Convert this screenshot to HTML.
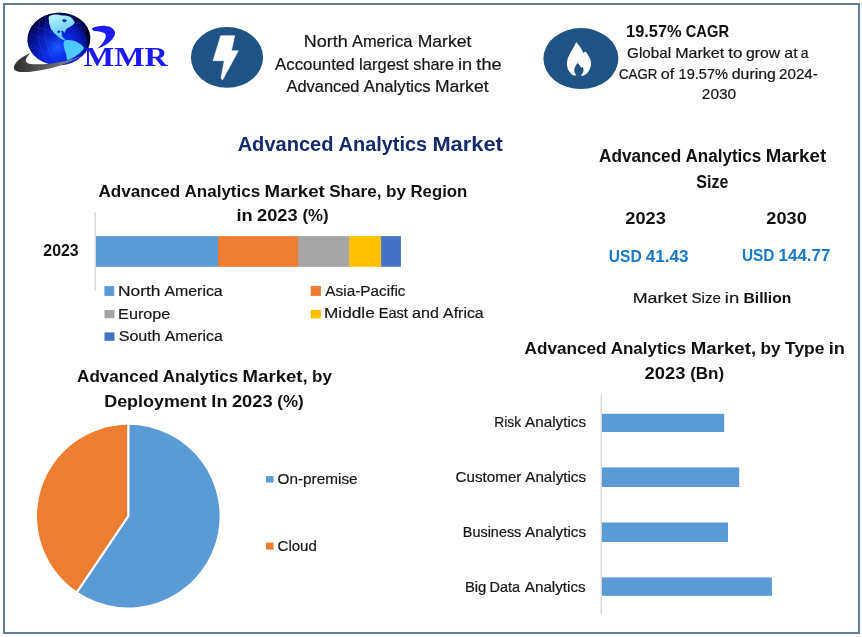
<!DOCTYPE html>
<html><head><meta charset="utf-8"><title>Advanced Analytics Market</title>
<style>html,body{margin:0;padding:0;background:#fff}svg{display:block}text{white-space:pre}
.r{font-family:"Liberation Sans",sans-serif;stroke-width:.2}
.b{font-family:"Liberation Sans",sans-serif;font-weight:bold}
.s{font-family:"Liberation Serif",serif;font-weight:bold}</style></head>
<body>
<svg width="862" height="637" viewBox="0 0 862 637">
<rect width="862" height="637" fill="#fff"/>

<rect x="4" y="4" width="855" height="629" fill="#fff" stroke="#5f7d9c" stroke-width="2"/>
<!-- icons -->
<ellipse cx="227" cy="57.4" rx="36.1" ry="30.4" fill="#1f5285"/>
<path d="M220.7 35.7 L234.7 35.7 L231.4 50.8 L238.3 50.8 L222.5 80 L221 78 L224.3 60.7 L213.1 60.7 Z" fill="#fff" stroke="#fff" stroke-width="0.6" stroke-linejoin="round"/>
<ellipse cx="580.9" cy="58.6" rx="37.5" ry="30.5" fill="#1f5285"/>
<path d="M576.2 42.1 C577.5 43.8 579 45.3 580 46.8 C581.5 48.8 582.5 50.8 583.1 52.9 C583.9 52.6 584.8 52.2 585.5 51.6 C587 53.2 588.2 55 589 57 C590.2 58.8 591 60.6 591 62.8 C591.2 64.6 590.9 66.4 590.2 68 C589.6 69.8 588.7 71.4 587.5 72.7 C586.3 74 584.8 75.1 583.1 75.7 C581 76.1 576 76.1 573.7 75.5 C571.9 74.7 570.6 73.4 569.8 71.9 C568.4 70.5 567.7 68.9 567.4 67.2 C566.8 65.4 566.7 63.5 567 61.7 C567.3 59.5 568 57.4 569 55.4 C570 52.9 571.4 50.6 572.9 48.4 C574.2 46.4 575.4 44.4 576.2 42.1 Z" fill="#fff"/>
<path d="M577.6 62.9 C578.8 64 579.7 65.2 580.4 66.4 C580.9 67 581.3 67.5 581.6 68 C582 67.6 582.4 67.2 582.7 66.8 C583.3 67.9 583.6 69.1 583.5 70.3 C583.4 71.9 582.7 73.2 581.6 74.3 C581.3 75 581.2 75.8 581.2 76.8 L575.7 76.8 C575.8 75.8 575.8 75 575.7 74.3 C574.7 73.2 574.2 71.8 574.3 70.3 C574.3 69.2 574.5 68.2 574.9 67.2 C575.6 65.6 576.7 64.2 577.6 62.9 Z" fill="#1f5285"/>
<!-- stacked bar -->
<rect x="94.4" y="212.5" width="1.6" height="78" fill="#dadada"/>
<rect x="96" y="236.1" width="122" height="30.7" fill="#5b9bd5"/>
<rect x="218" y="236.1" width="80" height="30.7" fill="#ed7d31"/>
<rect x="298" y="236.1" width="51" height="30.7" fill="#a5a5a5"/>
<rect x="349" y="236.1" width="32.1" height="30.7" fill="#ffc000"/>
<rect x="381.1" y="236.1" width="19.8" height="30.7" fill="#4472c4"/>
<rect x="104.4" y="286.1" width="9.8" height="9.8" fill="#5b9bd5"/>
<rect x="104.5" y="310" width="10" height="8.3" fill="#a5a5a5"/>
<rect x="104.5" y="332.4" width="10" height="8.4" fill="#4472c4"/>
<rect x="310.7" y="285.9" width="10.2" height="10" fill="#ed7d31"/>
<rect x="310.7" y="309.8" width="10.2" height="8.6" fill="#ffc000"/>
<!-- pie -->
<path d="M128.3,516.1 L128.3,424.8 A91.3,91.3 0 1 1 77.18,591.75 Z" fill="#5b9bd5"/>
<path d="M128.3,516.1 L77.18,591.75 A91.3,91.3 0 0 1 128.3,424.8 Z" fill="#ed7d31"/>
<path d="M128.3,423.8 L128.3,516.1 L76.62,592.58" fill="none" stroke="#fff" stroke-width="2.3" stroke-linejoin="round"/>
<rect x="266" y="476.1" width="7.6" height="6.4" fill="#5b9bd5"/>
<rect x="266" y="542.6" width="7.6" height="7" fill="#ed7d31"/>
<!-- bars -->
<rect x="600.6" y="395.3" width="1.4" height="218.5" fill="#d6d6d6"/>
<rect x="602" y="413.8" width="122.2" height="18.2" fill="#5b9bd5"/>
<rect x="602" y="467.4" width="137.2" height="19.6" fill="#5b9bd5"/>
<rect x="602" y="522.5" width="126" height="19.5" fill="#5b9bd5"/>
<rect x="602" y="577.4" width="169.9" height="18.4" fill="#5b9bd5"/>


<defs>
<radialGradient id="gl" gradientUnits="userSpaceOnUse" cx="56" cy="47" r="40">
<stop offset="0" stop-color="#1a58ff"/><stop offset="0.3" stop-color="#0a2eec"/><stop offset="0.62" stop-color="#061ac0"/><stop offset="0.82" stop-color="#030c68"/><stop offset="0.95" stop-color="#00021a"/>
</radialGradient>
<linearGradient id="sw" gradientUnits="userSpaceOnUse" x1="14" y1="0" x2="86" y2="0"><stop offset="0" stop-color="#2e2e2e"/><stop offset="0.45" stop-color="#5c5c5c"/><stop offset="0.8" stop-color="#86868e"/><stop offset="1" stop-color="#9c9cc0"/></linearGradient>
<linearGradient id="na" x1="0" y1="0" x2="0.3" y2="1"><stop offset="0" stop-color="#c4f6ff"/><stop offset="1" stop-color="#4cc4ff"/></linearGradient>
<linearGradient id="dk" gradientUnits="userSpaceOnUse" x1="30" y1="16" x2="58" y2="46"><stop offset="0" stop-color="#000020" stop-opacity="0.85"/><stop offset="0.55" stop-color="#000040" stop-opacity="0.3"/><stop offset="1" stop-color="#000040" stop-opacity="0"/></linearGradient>
<clipPath id="gc"><ellipse cx="58.9" cy="39" rx="31.5" ry="26.3" transform="rotate(-4 58.9 39)"/></clipPath>
</defs>
<g>
<ellipse cx="58.9" cy="39" rx="31.5" ry="26.3" fill="url(#gl)" transform="rotate(-4 58.9 39)"/>
<g clip-path="url(#gc)">
<rect x="25" y="10" width="70" height="60" fill="url(#dk)"/>
<g fill="none" stroke="#7fa8ff" stroke-opacity="0.2" stroke-width="0.6">
<path d="M40 20 C36 36 40 54 50 66"/><path d="M46 16 C43 34 47 52 57 66"/><path d="M30 34 C46 40 60 44 72 60"/><path d="M28 44 C42 50 52 54 62 66"/><path d="M33 26 C50 30 66 38 80 54"/>
</g>
<path d="M48.9 16.4 C51 15 53.5 14.6 55.8 14.6 C58 14.4 60.5 15.2 62.1 15.6 C65 15.4 68 16 70.5 16.9 C72.5 18.5 74.2 20.5 74.7 22.7 C73.5 24.5 72 25.5 70.5 26.4 C69 27.5 67.5 28 66.3 29 C65.8 30.5 65 31.6 64.4 33 C63.6 32 62.8 31.6 62 32.2 C61.6 33.8 61.8 35 62.3 36.4 C63.2 37.8 64.2 38.8 65.4 39.8 L64.6 40.6 C61.5 39.6 58.8 37.6 56.8 35.3 C55 34.3 53.6 32.8 52.6 31.1 C51.2 29.5 50.4 27.8 50 25.9 C49.2 24.2 48.8 22.4 48.9 20.6 C48.5 19.2 48.5 17.8 48.9 16.4 Z" fill="url(#na)"/>
<path d="M62.5 19.5 C64 18.8 66 19.2 66.8 20.6 C66.5 22 65 22.6 63.6 22.2 C62.6 21.6 62.2 20.5 62.5 19.5 Z" fill="#0a2fb8"/>
<path d="M57.6 31 C58.6 30.3 60 30.5 60.4 31.6 C60.2 32.8 59 33.3 58 32.9 C57.3 32.4 57.2 31.6 57.6 31 Z M61.3 31 C62.2 30.4 63.4 30.6 63.7 31.6 C63.5 32.7 62.5 33.1 61.7 32.7 C61.1 32.3 61 31.5 61.3 31 Z" fill="#0a2fb8"/>
<path d="M64.8 40.4 C67.4 39.8 70.2 39.9 72.6 40.6 C75 41 77.2 41.9 78.9 43.2 C80.8 44.2 82.6 45.6 83.8 47.4 C83.8 48.8 83.1 50 82 51.1 C80.6 52.8 78.8 54.2 76.8 55.3 C75.3 56.6 73.5 57.7 71.5 58.5 C70.2 59.3 68.7 59.8 67.3 60.2 C66.5 58.3 66.2 56.3 66.3 54.3 C65.3 52.3 64.6 50.2 64.2 48 C63.6 46.6 63.4 45.2 63.6 43.8 C63.6 42.5 64 41.3 64.8 40.4 Z" fill="#4ccaff"/>
<path d="M83 30 C88 36 90 46 84 56 C92 50 93 36 86 26 Z" fill="#000018" fill-opacity="0.75"/>
</g>
<path d="M30 53.2 C21 57 12.5 63.5 14.1 69.2 C17 73.8 31 72.6 51.5 67.9 C57 66.6 62 64.8 67.3 62.7 C73 60.4 79 57.6 85.2 54.3 C83 55.3 81 56.1 78.9 56.9 C68 60.8 56 63.4 46.3 64 C40 64.4 33.5 64.6 29.5 63.7 C26.8 63 25.4 61.8 25.8 60.2 C26.3 57.8 28 55.6 30 53.2 Z" fill="url(#sw)"/>
<path d="M91.6 28.7 C95 26.5 100 25.7 105.5 25.9 C110 26.2 113.6 28 115 32 C115.6 36 111.4 41 106.7 44.2 C104 46 100.6 47.6 97.2 48.5 C100.4 46.2 102.6 43.6 104 41 C105.9 38 106.5 35.6 104.9 33.6 C102.6 31.6 98 30.8 93.9 30.9 Z" fill="#1c1cf2"/>
</g>

<text class="r" y="47.00" font-size="16.1" fill="#161616" stroke="#161616"><tspan x="303.76" textLength="44.01" lengthAdjust="spacingAndGlyphs">North</tspan> <tspan x="351.90" textLength="60.41" lengthAdjust="spacingAndGlyphs">America</tspan> <tspan x="417.69" textLength="53.62" lengthAdjust="spacingAndGlyphs">Market</tspan></text>
<text class="r" y="69.70" font-size="16.1" fill="#161616" stroke="#161616"><tspan x="275.04" textLength="79.49" lengthAdjust="spacingAndGlyphs">Accounted</tspan> <tspan x="359.10" textLength="49.63" lengthAdjust="spacingAndGlyphs">largest</tspan> <tspan x="413.27" textLength="40.86" lengthAdjust="spacingAndGlyphs">share</tspan> <tspan x="458.03" textLength="14.18" lengthAdjust="spacingAndGlyphs">in</tspan> <tspan x="476.38" textLength="25.10" lengthAdjust="spacingAndGlyphs">the</tspan></text>
<text class="r" y="92.30" font-size="16.1" fill="#161616" stroke="#161616"><tspan x="286.45" textLength="73.08" lengthAdjust="spacingAndGlyphs">Advanced</tspan> <tspan x="363.88" textLength="66.85" lengthAdjust="spacingAndGlyphs">Analytics</tspan> <tspan x="434.94" textLength="53.57" lengthAdjust="spacingAndGlyphs">Market</tspan></text>
<text class="b" y="150.60" font-size="20.5" fill="#152b6b"><tspan x="237.63" textLength="95.92" lengthAdjust="spacingAndGlyphs">Advanced</tspan> <tspan x="338.60" textLength="88.59" lengthAdjust="spacingAndGlyphs">Analytics</tspan> <tspan x="432.41" textLength="70.49" lengthAdjust="spacingAndGlyphs">Market</tspan></text>
<text class="b" y="196.90" font-size="17.3" fill="#111"><tspan x="98.40" textLength="81.87" lengthAdjust="spacingAndGlyphs">Advanced</tspan> <tspan x="184.57" textLength="75.61" lengthAdjust="spacingAndGlyphs">Analytics</tspan> <tspan x="264.64" textLength="60.20" lengthAdjust="spacingAndGlyphs">Market</tspan> <tspan x="329.23" textLength="52.18" lengthAdjust="spacingAndGlyphs">Share,</tspan> <tspan x="385.99" textLength="19.96" lengthAdjust="spacingAndGlyphs">by</tspan> <tspan x="410.53" textLength="56.81" lengthAdjust="spacingAndGlyphs">Region</tspan></text>
<text class="b" y="221.00" font-size="17.3" fill="#111"><tspan x="236.53" textLength="16.17" lengthAdjust="spacingAndGlyphs">in</tspan> <tspan x="257.12" textLength="40.48" lengthAdjust="spacingAndGlyphs">2023</tspan> <tspan x="302.38" textLength="26.24" lengthAdjust="spacingAndGlyphs">(%)</tspan></text>
<text class="b" y="255.50" font-size="16.4" fill="#111"><tspan x="43.37" textLength="35.28" lengthAdjust="spacingAndGlyphs">2023</tspan></text>
<text class="r" y="295.80" font-size="15.3" fill="#161616" stroke="#161616"><tspan x="118.01" textLength="42.44" lengthAdjust="spacingAndGlyphs">North</tspan> <tspan x="164.43" textLength="58.29" lengthAdjust="spacingAndGlyphs">America</tspan></text>
<text class="r" y="318.60" font-size="15.3" fill="#161616" stroke="#161616"><tspan x="118.11" textLength="52.16" lengthAdjust="spacingAndGlyphs">Europe</tspan></text>
<text class="r" y="341.20" font-size="15.3" fill="#161616" stroke="#161616"><tspan x="118.65" textLength="42.10" lengthAdjust="spacingAndGlyphs">South</tspan> <tspan x="164.77" textLength="57.94" lengthAdjust="spacingAndGlyphs">America</tspan></text>
<text class="r" y="295.80" font-size="15.3" fill="#161616" stroke="#161616"><tspan x="325.35" textLength="80.17" lengthAdjust="spacingAndGlyphs">Asia-Pacific</tspan></text>
<text class="r" y="318.40" font-size="15.3" fill="#161616" stroke="#161616"><tspan x="324.02" textLength="50.69" lengthAdjust="spacingAndGlyphs">Middle</tspan> <tspan x="378.68" textLength="29.16" lengthAdjust="spacingAndGlyphs">East</tspan> <tspan x="412.08" textLength="26.80" lengthAdjust="spacingAndGlyphs">and</tspan> <tspan x="443.13" textLength="40.56" lengthAdjust="spacingAndGlyphs">Africa</tspan></text>
<text class="b" y="161.90" font-size="17.5" fill="#111"><tspan x="599.00" textLength="82.14" lengthAdjust="spacingAndGlyphs">Advanced</tspan> <tspan x="685.46" textLength="75.86" lengthAdjust="spacingAndGlyphs">Analytics</tspan> <tspan x="765.79" textLength="60.36" lengthAdjust="spacingAndGlyphs">Market</tspan></text>
<text class="b" y="188.20" font-size="17.5" fill="#111"><tspan x="696.32" textLength="32.03" lengthAdjust="spacingAndGlyphs">Size</tspan></text>
<text class="b" y="224.30" font-size="16.5" fill="#111"><tspan x="625.39" textLength="40.43" lengthAdjust="spacingAndGlyphs">2023</tspan></text>
<text class="b" y="224.30" font-size="16.5" fill="#111"><tspan x="766.39" textLength="40.39" lengthAdjust="spacingAndGlyphs">2030</tspan></text>
<text class="b" y="262.30" font-size="17.3" fill="#1679c9"><tspan x="608.87" textLength="32.88" lengthAdjust="spacingAndGlyphs">USD</tspan> <tspan x="645.63" textLength="42.98" lengthAdjust="spacingAndGlyphs">41.43</tspan></text>
<text class="b" y="260.90" font-size="17.3" fill="#1679c9"><tspan x="741.98" textLength="32.53" lengthAdjust="spacingAndGlyphs">USD</tspan> <tspan x="778.61" textLength="51.70" lengthAdjust="spacingAndGlyphs">144.77</tspan></text>
<text class="r" y="303.00" font-size="15.2" fill="#161616" stroke="#161616"><tspan x="632.77" textLength="54.48" lengthAdjust="spacingAndGlyphs">Market</tspan> <tspan x="691.48" textLength="29.37" lengthAdjust="spacingAndGlyphs">Size</tspan> <tspan x="724.87" textLength="14.36" lengthAdjust="spacingAndGlyphs">in</tspan></text>
<text class="b" y="303.00" font-size="15.2" fill="#111"><tspan x="743.56" textLength="47.71" lengthAdjust="spacingAndGlyphs">Billion</tspan></text>
<text class="b" y="36.70" font-size="16.2" fill="#111"><tspan x="626.06" textLength="55.60" lengthAdjust="spacingAndGlyphs">19.57%</tspan> <tspan x="685.71" textLength="43.30" lengthAdjust="spacingAndGlyphs">CAGR</tspan></text>
<text class="r" y="58.40" font-size="14.4" fill="#161616" stroke="#161616"><tspan x="627.14" textLength="43.99" lengthAdjust="spacingAndGlyphs">Global</tspan> <tspan x="675.15" textLength="48.95" lengthAdjust="spacingAndGlyphs">Market</tspan> <tspan x="728.27" textLength="14.20" lengthAdjust="spacingAndGlyphs">to</tspan> <tspan x="746.10" textLength="34.17" lengthAdjust="spacingAndGlyphs">grow</tspan> <tspan x="784.27" textLength="13.35" lengthAdjust="spacingAndGlyphs">at</tspan> <tspan x="800.85" textLength="7.75" lengthAdjust="spacingAndGlyphs">a</tspan></text>
<text class="r" y="78.80" font-size="14.4" fill="#161616" stroke="#161616"><tspan x="619.04" textLength="38.28" lengthAdjust="spacingAndGlyphs">CAGR</tspan> <tspan x="660.81" textLength="13.45" lengthAdjust="spacingAndGlyphs">of</tspan> <tspan x="678.60" textLength="49.37" lengthAdjust="spacingAndGlyphs">19.57%</tspan> <tspan x="731.70" textLength="44.30" lengthAdjust="spacingAndGlyphs">during</tspan> <tspan x="779.01" textLength="38.86" lengthAdjust="spacingAndGlyphs">2024-</tspan></text>
<text class="r" y="99.20" font-size="14.4" fill="#161616" stroke="#161616"><tspan x="701.83" textLength="34.36" lengthAdjust="spacingAndGlyphs">2030</tspan></text>
<text class="b" y="381.90" font-size="17.3" fill="#111"><tspan x="77.10" textLength="81.47" lengthAdjust="spacingAndGlyphs">Advanced</tspan> <tspan x="162.86" textLength="75.25" lengthAdjust="spacingAndGlyphs">Analytics</tspan> <tspan x="242.54" textLength="65.17" lengthAdjust="spacingAndGlyphs">Market,</tspan> <tspan x="312.11" textLength="19.90" lengthAdjust="spacingAndGlyphs">by</tspan></text>
<text class="b" y="406.50" font-size="17.3" fill="#111"><tspan x="104.21" textLength="102.48" lengthAdjust="spacingAndGlyphs">Deployment</tspan> <tspan x="211.36" textLength="16.09" lengthAdjust="spacingAndGlyphs">In</tspan> <tspan x="231.92" textLength="40.65" lengthAdjust="spacingAndGlyphs">2023</tspan> <tspan x="277.36" textLength="26.36" lengthAdjust="spacingAndGlyphs">(%)</tspan></text>
<text class="r" y="484.40" font-size="14.3" fill="#161616" stroke="#161616"><tspan x="277.59" textLength="79.98" lengthAdjust="spacingAndGlyphs">On-premise</tspan></text>
<text class="r" y="550.50" font-size="14.6" fill="#161616" stroke="#161616"><tspan x="277.55" textLength="39.30" lengthAdjust="spacingAndGlyphs">Cloud</tspan></text>
<text class="b" y="354.40" font-size="17.3" fill="#111"><tspan x="524.60" textLength="81.81" lengthAdjust="spacingAndGlyphs">Advanced</tspan> <tspan x="610.71" textLength="75.56" lengthAdjust="spacingAndGlyphs">Analytics</tspan> <tspan x="690.72" textLength="65.44" lengthAdjust="spacingAndGlyphs">Market,</tspan> <tspan x="760.59" textLength="19.95" lengthAdjust="spacingAndGlyphs">by</tspan> <tspan x="785.05" textLength="39.46" lengthAdjust="spacingAndGlyphs">Type</tspan> <tspan x="828.65" textLength="16.18" lengthAdjust="spacingAndGlyphs">in</tspan></text>
<text class="b" y="378.70" font-size="17.3" fill="#111"><tspan x="644.59" textLength="40.78" lengthAdjust="spacingAndGlyphs">2023</tspan> <tspan x="690.19" textLength="33.84" lengthAdjust="spacingAndGlyphs">(Bn)</tspan></text>
<text class="r" y="427.40" font-size="14.1" fill="#161616" stroke="#161616"><tspan x="494.19" textLength="26.88" lengthAdjust="spacingAndGlyphs">Risk</tspan> <tspan x="525.05" textLength="61.03" lengthAdjust="spacingAndGlyphs">Analytics</tspan></text>
<text class="r" y="481.70" font-size="14.1" fill="#161616" stroke="#161616"><tspan x="455.54" textLength="65.88" lengthAdjust="spacingAndGlyphs">Customer</tspan> <tspan x="525.26" textLength="60.82" lengthAdjust="spacingAndGlyphs">Analytics</tspan></text>
<text class="r" y="537.40" font-size="14.1" fill="#161616" stroke="#161616"><tspan x="462.85" textLength="58.45" lengthAdjust="spacingAndGlyphs">Business</tspan> <tspan x="525.14" textLength="60.94" lengthAdjust="spacingAndGlyphs">Analytics</tspan></text>
<text class="r" y="591.70" font-size="14.1" fill="#161616" stroke="#161616"><tspan x="464.91" textLength="21.44" lengthAdjust="spacingAndGlyphs">Big</tspan> <tspan x="489.46" textLength="30.50" lengthAdjust="spacingAndGlyphs">Data</tspan> <tspan x="524.82" textLength="60.86" lengthAdjust="spacingAndGlyphs">Analytics</tspan></text>
<text class="s" y="66.30" font-size="26.8" fill="#1a1af0"><tspan x="83.86" textLength="84.01" lengthAdjust="spacingAndGlyphs">MMR</tspan></text>
</svg>
</body></html>
